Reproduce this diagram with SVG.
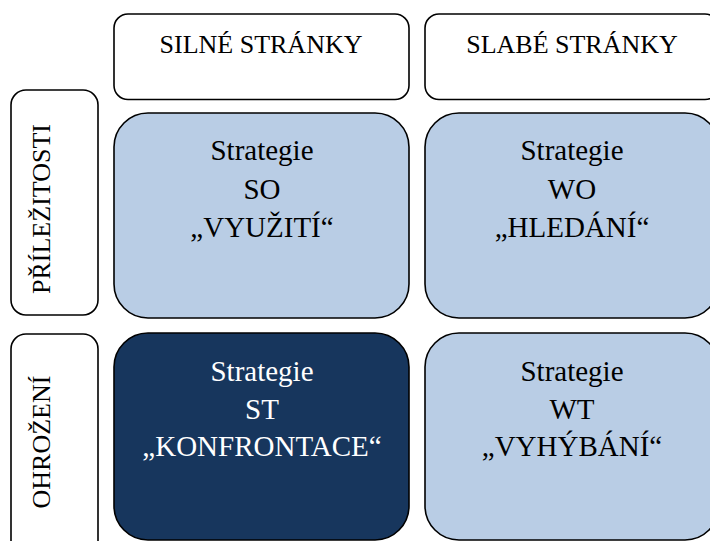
<svg xmlns="http://www.w3.org/2000/svg" width="710" height="541" viewBox="0 0 710 541">
<style>
.hdr{fill:#fff;stroke:#000;stroke-width:1.6}
.light{fill:#B9CDE5;stroke:#000;stroke-width:1.6}
.dark{fill:#17365D;stroke:#000;stroke-width:1.6}
text{font-family:"Liberation Serif","Times New Roman",serif;text-anchor:middle}
.h{font-size:26px;fill:#000}
.b{font-size:29px;fill:#000}
.w{font-size:29px;fill:#fff}
</style>
<rect width="710" height="541" fill="#fff"/>
<g id="silne">
<rect class="hdr" x="114" y="14" width="295" height="85.5" rx="14"/>
<text class="h" x="261" y="53">SILNÉ STRÁNKY</text>
</g>
<g id="slabe">
<rect class="hdr" x="425" y="14" width="294" height="85.5" rx="14"/>
<text class="h" x="572" y="53">SLABÉ STRÁNKY</text>
</g>
<g id="prilezitosti">
<rect class="hdr" x="11" y="90" width="87" height="225" rx="15"/>
<text class="h" transform="translate(50,209) rotate(-90)">PŘÍLEŽITOSTI</text>
</g>
<g id="ohrozeni">
<rect class="hdr" x="11" y="334" width="87" height="225" rx="15"/>
<text class="h" transform="translate(50,442) rotate(-90)">OHROŽENÍ</text>
</g>
<g id="so">
<rect class="light" x="114" y="113" width="295" height="205" rx="34"/>
<text class="b" x="262" y="160">Strategie</text>
<text class="b" x="262" y="199">SO</text>
<text class="b" x="262" y="237">„VYUŽITÍ“</text>
</g>
<g id="wo">
<rect class="light" x="425" y="113" width="294" height="205" rx="34"/>
<text class="b" x="572" y="160">Strategie</text>
<text class="b" x="572" y="199">WO</text>
<text class="b" x="572" y="237">„HLEDÁNÍ“</text>
</g>
<g id="st">
<rect class="dark" x="114" y="333" width="295" height="207" rx="34"/>
<text class="w" x="262" y="381">Strategie</text>
<text class="w" x="262" y="419">ST</text>
<text class="w" x="262" y="456">„KONFRONTACE“</text>
</g>
<g id="wt">
<rect class="light" x="425" y="333" width="294" height="207" rx="34"/>
<text class="b" x="572" y="381">Strategie</text>
<text class="b" x="572" y="419">WT</text>
<text class="b" x="572" y="456">„VYHÝBÁNÍ“</text>
</g>
<g id="connectors"></g>
</svg>
